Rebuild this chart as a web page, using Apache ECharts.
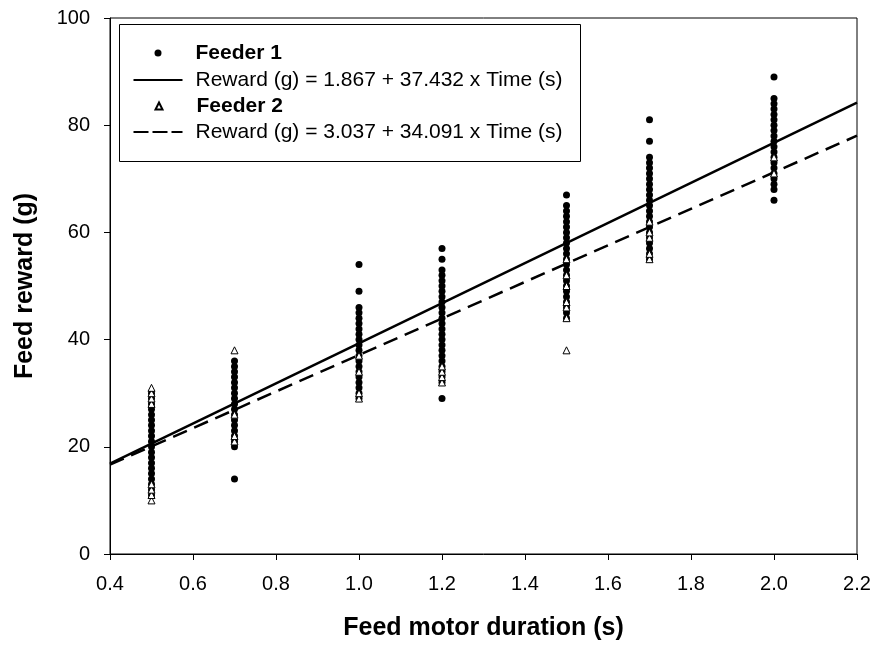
<!DOCTYPE html>
<html>
<head>
<meta charset="UTF-8">
<script src="https://cdn.jsdelivr.net/npm/echarts@6/dist/echarts.min.js"></script>
</head>
<body style="margin:0">
<div id="chartContainer" style="width:874px;height:646px;"></div>
<script>
// durations (s)
var durations = [0.5, 0.7, 1.0, 1.2, 1.5, 1.7, 2.0];
// feeder 1 rewards per duration
var feeder1 = [
    [11,12,13,14,15,16,17,18,19,20,21,22,23,24,25,26,27,28,29,30],
    [14,20,21,22,23,24,25,26,27,28,29,30,31,32,33,34,35,36],
    [29,30,31,32,33,34,35,36,37,38,39,40,41,42,43,44,45,46,49,54],
    [29,32,33,34,35,36,37,38,39,40,41,42,43,44,45,46,47,48,49,50,51,52,53,55,57],
    [44,45,46,47,48,49,50,51,52,53,54,55,56,57,58,59,60,61,62,63,64,65,67],
    [55,56,57,58,59,60,61,62,63,64,65,66,67,68,69,70,71,72,73,74,77,81],
    [66,68,69,70,71,72,73,74,75,76,77,78,79,80,81,82,83,84,85,89]
];
// feeder 2 rewards per duration (visible triangles)
var feeder2 = [
    [10,11,12,13,28,29,30,31],
    [21,22,26,38],
    [29,30,34,37],
    [32,33,34,35],
    [38,44,46,47,50,52,55],
    [55,56,59,60,62],
    [71,74]
];
// regression coefficients
var fit1 = [1.867, 37.432];
var fit2 = [3.037, 34.091];
var xRange = [0.4, 2.2];
var names = ['Feeder 1', 'Reward (g) = 1.867 + 37.432 x Time (s)', 'Feeder 2', 'Reward (g) = 3.037 + 34.091 x Time (s) '];

function pts(groups) {
    var out = [];
    groups.forEach(function (g, i) {
        g.forEach(function (v) { out.push([durations[i], v]); });
    });
    return out;
}
function fitLine(c) {
    return xRange.map(function (x) { return [x, c[0] + c[1] * x]; });
}

var chart = echarts.init(document.getElementById('chartContainer'));
var font = 'Arial, Liberation Sans, sans-serif';

// one legend per row so each icon can have its own size
function legendRow(i, centerY, w, h, icon, bold, pad) {
    return {
        left: 158 - w / 2, top: centerY - 11, itemWidth: w, itemHeight: h, itemGap: 0,
        padding: 0, icon: icon, data: [names[i]],
        textStyle: {fontSize: 21, lineHeight: 22, color: '#000', fontFamily: font,
                    fontWeight: bold ? 'bold' : 'normal', padding: [0, 0, 0, pad]}
    };
}
var rows = [
    legendRow(0, 53, 7, 7, 'circle', true, 29),
    legendRow(1, 80, 49, 2, 'rect', false, 8),
    legendRow(2, 106, 7, 7, 'triangle', true, 29),
    legendRow(3, 132, 49, 2, 'path://M0,0h15v2h-15z M19,0h15v2h-15z M38,0h11v2h-11z', false, 8)
];

chart.setOption({
    animation: false,
    textStyle: {fontFamily: font},
    grid: {left: 110, right: 17, top: 18, bottom: 88, show: true, borderColor: '#000', borderWidth: 1},
    graphic: [{type: 'rect', left: 119, top: 24, shape: {width: 461, height: 137},
               style: {fill: '#fff', stroke: '#000', lineWidth: 1}, z: 0}],
    legend: rows,
    xAxis: {
        type: 'value', min: 0.4, max: 2.2, interval: 0.2,
        name: 'Feed motor duration (s)', nameLocation: 'middle', nameGap: 62,
        nameTextStyle: {fontSize: 25, fontWeight: 'bold', color: '#000'},
        axisLine: {lineStyle: {color: '#000'}},
        axisTick: {length: 6, lineStyle: {color: '#000'}},
        axisLabel: {fontSize: 20, color: '#000', margin: 20, formatter: function (v) { return v.toFixed(1); }},
        splitLine: {show: false}
    },
    yAxis: {
        type: 'value', min: 0, max: 100, interval: 20,
        name: 'Feed reward (g)', nameLocation: 'middle', nameGap: 72,
        nameTextStyle: {fontSize: 25, fontWeight: 'bold', color: '#000'},
        axisLine: {show: true, lineStyle: {color: '#000'}},
        axisTick: {show: true, length: 6, lineStyle: {color: '#000'}},
        axisLabel: {fontSize: 20, color: '#000', margin: 20},
        splitLine: {show: false}
    },
    series: [
        {name: names[0], type: 'scatter', data: pts(feeder1), symbol: 'circle', symbolSize: 7,
         itemStyle: {color: '#000', opacity: 1}, z: 3},
        {name: names[1], type: 'line', data: fitLine(fit1), symbol: 'none',
         lineStyle: {color: '#000', width: 2.5}, itemStyle: {color: '#000'}, z: 4},
        {name: names[2], type: 'scatter', data: pts(feeder2), symbol: 'triangle', symbolSize: 7,
         itemStyle: {color: '#fff', borderColor: '#000', borderWidth: 1, opacity: 1}, z: 5},
        {name: names[3], type: 'line', data: fitLine(fit2), symbol: 'none',
         lineStyle: {color: '#000', width: 2.5, type: [15, 8]}, itemStyle: {color: '#000'}, z: 4}
    ]
});
</script>
</body>
</html>
